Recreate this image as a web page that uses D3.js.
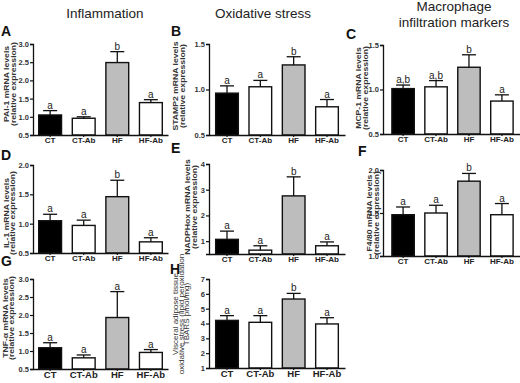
<!DOCTYPE html>
<html>
<head>
<meta charset="utf-8">
<script src="https://cdn.jsdelivr.net/npm/d3@7"></script>
<style>
  body { margin: 0; background: #fff; }
  svg { display: block; font-family: "Liberation Sans", Arial, sans-serif; }
</style>
</head>
<body>
<div id="chart"></div>
<script>
// groups on the x axis
const groups = ["CT", "CT-Ab", "HF", "HF-Ab"];

// A: PAI-1
const paiMean = [1.05, 0.96, 2.49, 1.39];
const paiSem = [0.12, 0.04, 0.3, 0.08];
const paiSig = ["a", "a", "b", "a"];
const paiTicks = [0.5, 1.0, 1.5, 2.0, 2.5, 3.0];

// B: STAMP2
const stampMean = [0.96, 1.03, 1.27, 0.81];
const stampSem = [0.08, 0.07, 0.09, 0.08];
const stampSig = ["a", "a", "b", "a"];
const stampTicks = [0.5, 1.0, 1.5];

// C: MCP-1
const mcpMean = [1.01, 1.03, 1.25, 0.87];
const mcpSem = [0.04, 0.07, 0.14, 0.07];
const mcpSig = ["a,b", "a,b", "b", "a"];
const mcpTicks = [0.5, 1.0, 1.5];

// D: IL-1
const il1Mean = [1.05, 0.97, 1.46, 0.69];
const il1Sem = [0.11, 0.09, 0.28, 0.07];
const il1Sig = ["a", "a", "b", "a"];
const il1Ticks = [0.5, 1.0, 1.5, 2.0];

// E: NADPHox
const noxMean = [1.07, 0.65, 2.76, 0.82];
const noxSem = [0.32, 0.17, 0.74, 0.15];
const noxSig = ["a", "a", "b", "a"];
const noxTicks = [1, 2, 3, 4];

// F: F4/80
const f480Mean = [1.48, 1.5, 1.87, 1.48];
const f480Sem = [0.09, 0.09, 0.09, 0.13];
const f480Sig = ["a", "a", "b", "a"];
const f480Ticks = [1.0, 1.5, 2.0];

// G: TNF-alpha
const tnfMean = [1.09, 0.81, 1.93, 0.96];
const tnfSem = [0.14, 0.08, 0.72, 0.08];
const tnfSig = ["a", "a", "a", "a"];
const tnfTicks = [0.5, 1.0, 1.5, 2.0, 2.5, 3.0];

// H: TBARS
const tbarsMean = [4.21, 4.08, 5.65, 3.97];
const tbarsSem = [0.32, 0.45, 0.38, 0.42];
const tbarsSig = ["a", "a", "b", "a"];
const tbarsTicks = [1, 2, 3, 4, 5, 6, 7];

const fills = ["#000", "#fff", "#bdbdbd", "#fff"];

const panels = [
  { id: "A", mean: paiMean, sem: paiSem, sig: paiSig, ticks: paiTicks, fmt: ".1f", domain: [0.5, 3],
    title: ["PAI-1 mRNA levels", "(relative expression)"],
    x0: 33, x1: 168, po: 0.17, yb: 135, yt: 44, lx: 1, ly: 36, tx: 9, ty: 84, xfs: 8 },
  { id: "B", mean: stampMean, sem: stampSem, sig: stampSig, ticks: stampTicks, fmt: ".1f", domain: [0.5, 1.5],
    title: ["STAMP2 mRNA levels", "(relative expression)"],
    x0: 209, x1: 345, po: 0.2, yb: 135, yt: 44, lx: 171, ly: 36, tx: 178, ty: 86, xfs: 8 },
  { id: "C", mean: mcpMean, sem: mcpSem, sig: mcpSig, ticks: mcpTicks, fmt: ".1f", domain: [0.5, 1.5],
    title: ["MCP-1 mRNA levels", "(relative expression)"],
    x0: 383, x1: 522, po: 0.27, yb: 134, yt: 45, lx: 346, ly: 39, tx: 361, ty: 88, xfs: 8 },
  { id: "D", mean: il1Mean, sem: il1Sem, sig: il1Sig, ticks: il1Ticks, fmt: ".1f", domain: [0.5, 2],
    title: ["IL-1 mRNA levels", "(relative expression)"],
    x0: 33, x1: 168, po: 0.17, yb: 253, yt: 165, lx: 1, ly: 160, tx: 8.5, ty: 213, xfs: 8 },
  { id: "E", mean: noxMean, sem: noxSem, sig: noxSig, ticks: noxTicks, fmt: "d", domain: [0.5, 4],
    title: ["NADPHox mRNA levels", "(relative expression)"],
    x0: 209, x1: 345, po: 0.2, yb: 254, yt: 164, lx: 171, ly: 153, tx: 190, ty: 207, xfs: 8 },
  { id: "F", mean: f480Mean, sem: f480Sem, sig: f480Sig, ticks: f480Ticks, fmt: ".1f", domain: [1, 2],
    title: ["F4/80 mRNA levels", "(relative expression)"],
    x0: 383, x1: 522, po: 0.27, yb: 256, yt: 170, lx: 358, ly: 156, tx: 372, ty: 213, xfs: 8 },
  { id: "G", mean: tnfMean, sem: tnfSem, sig: tnfSig, ticks: tnfTicks, fmt: ".1f", domain: [0.5, 3],
    title: ["TNF-\u03b1 mRNA levels", "(relative expression)"],
    x0: 33, x1: 168, po: 0.17, yb: 369, yt: 279, lx: 1, ly: 266, tx: 7.5, ty: 318, xfs: 9.5 },
  { id: "H", mean: tbarsMean, sem: tbarsSem, sig: tbarsSig, ticks: tbarsTicks, fmt: "d", domain: [1, 7],
    title: ["Visceral adipose tissue", "oxidative stress (lipid peroxidation", "TBARS pmol/mg)"],
    x0: 209, x1: 345, po: 0.2, yb: 368, yt: 279, lx: 170, ly: 274, tx: 177.5, ty: 314, xfs: 9.5 },
];

const svg = d3.select("#chart").append("svg").attr("width", 520).attr("height", 383);

// column headings
const heads = [
  { text: "Inflammation", x: 105, y: 18 },
  { text: "Oxidative stress", x: 263, y: 18 },
  { text: "Macrophage", x: 454, y: 11 },
  { text: "infiltration markers", x: 454, y: 27 },
];
svg.selectAll("text.head")
  .data(heads)
  .join("text")
  .attr("class", "head")
  .attr("x", (d) => d.x)
  .attr("y", (d) => d.y)
  .attr("text-anchor", "middle")
  .attr("font-size", 13.5)
  .attr("fill", "#222")
  .text((d) => d.text);

panels.forEach((p) => {
  const g = svg.append("g");

  const x = d3.scaleBand().domain(groups).range([p.x0, p.x1]).paddingInner(0.32).paddingOuter(p.po);
  const y = d3.scaleLinear().domain(p.domain).range([p.yb, p.yt]);

  // bars
  g.selectAll("rect")
    .data(groups)
    .join("rect")
    .attr("x", (d) => x(d))
    .attr("y", (d, i) => y(p.mean[i]))
    .attr("width", x.bandwidth())
    .attr("height", (d, i) => p.yb - y(p.mean[i]))
    .attr("fill", (d, i) => fills[i])
    .attr("stroke", "#111")
    .attr("stroke-width", 1.4);

  // error bars (upper only)
  const eb = g.selectAll("g.err").data(groups).join("g").attr("class", "err");
  eb.append("line")
    .attr("x1", (d) => x(d) + x.bandwidth() / 2)
    .attr("x2", (d) => x(d) + x.bandwidth() / 2)
    .attr("y1", (d, i) => y(p.mean[i]))
    .attr("y2", (d, i) => y(p.mean[i] + p.sem[i]))
    .attr("stroke", "#111")
    .attr("stroke-width", 1.3);
  eb.append("line")
    .attr("x1", (d) => x(d) + x.bandwidth() / 2 - 7)
    .attr("x2", (d) => x(d) + x.bandwidth() / 2 + 7)
    .attr("y1", (d, i) => y(p.mean[i] + p.sem[i]))
    .attr("y2", (d, i) => y(p.mean[i] + p.sem[i]))
    .attr("stroke", "#111")
    .attr("stroke-width", 1.3);

  // significance letters
  g.selectAll("text.sig")
    .data(groups)
    .join("text")
    .attr("class", "sig")
    .attr("x", (d) => x(d) + x.bandwidth() / 2)
    .attr("y", (d, i) => y(p.mean[i] + p.sem[i]) - 2)
    .attr("text-anchor", "middle")
    .attr("font-size", 10)
    .attr("fill", "#222")
    .text((d, i) => p.sig[i]);

  // y axis
  g.append("g")
    .attr("transform", `translate(${p.x0},0)`)
    .call(d3.axisLeft(y).tickValues(p.ticks).tickFormat(d3.format(p.fmt)).tickSize(3).tickPadding(1))
    .call((a) => a.select(".domain").attr("stroke", "#111").attr("stroke-width", 1.3))
    .call((a) => a.selectAll(".tick line").attr("stroke", "#111").attr("stroke-width", 1.2))
    .call((a) => a.selectAll("text").attr("font-size", 7.5).attr("font-weight", "bold").attr("fill", "#333").attr("font-family", null));

  // x axis
  g.append("g")
    .attr("transform", `translate(0,${p.yb})`)
    .call(d3.axisBottom(x).tickSize(2).tickSizeOuter(0).tickPadding(0.5))
    .call((a) => a.select(".domain").attr("stroke", "#111").attr("stroke-width", 1.3))
    .call((a) => a.selectAll(".tick line").attr("stroke", "#111").attr("stroke-width", 1.2))
    .call((a) => a.selectAll("text").attr("font-size", p.xfs).attr("font-weight", "bold").attr("fill", "#222").attr("font-family", null));

  // panel letter
  g.append("text")
    .attr("x", p.lx)
    .attr("y", p.ly)
    .attr("font-size", 14)
    .attr("font-weight", "bold")
    .attr("fill", "#111")
    .text(p.id);

  // y title, rotated and slightly stretched along the text; lines stack to the right
  const isH = p.id === "H";
  g.append("text")
    .attr("transform", `translate(${p.tx},${p.ty}) rotate(-90) scale(1.15,1)`)
    .attr("text-anchor", "middle")
    .attr("font-size", isH ? 7 : 7.5)
    .attr("font-weight", isH ? "normal" : "bold")
    .attr("fill", "#333")
    .selectAll("tspan")
    .data(p.title)
    .join("tspan")
    .attr("x", 0)
    .attr("dy", (d, i) => (i === 0 ? 0 : isH ? 6 : 7))
    .text((d) => d);
});
</script>
</body>
</html>
